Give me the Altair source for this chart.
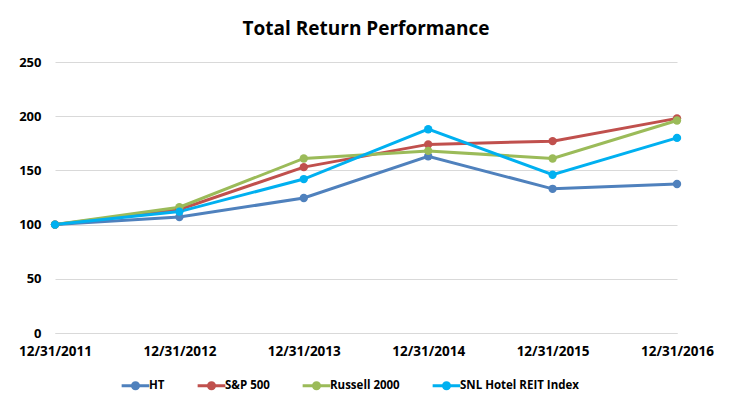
import altair as alt
import pandas as pd

dates = ["12/31/2011", "12/31/2012", "12/31/2013", "12/31/2014", "12/31/2015", "12/31/2016"]
series_names = ["HT", "S&P 500", "Russell 2000", "SNL Hotel REIT Index"]
ht = [100, 107, 124.5, 163, 133, 137.5]
sp500 = [100, 114, 153, 174, 177, 198]
russell = [100, 116, 161, 168, 161, 196]
snl = [100, 112, 142, 188, 146, 180]
colors = ["#4F81BD", "#C0504D", "#9BBB59", "#00B0F0"]

rows = []
for name, vals in zip(series_names, [ht, sp500, russell, snl]):
    for d, v in zip(dates, vals):
        rows.append({"Date": d, "Series": name, "Value": v})
df = pd.DataFrame(rows)

FONT = "Open Sans"

legend_symbol = "M-1.6,0L-0.35,0M0.35,0L1.6,0M-0.35,0A0.35,0.35 0 1,1 0.35,0A0.35,0.35 0 1,1 -0.35,0Z"

chart = alt.Chart(df).mark_line(
    strokeWidth=3,
    point=alt.OverlayMarkDef(filled=True, size=70),
).encode(
    x=alt.X("Date:O", sort=dates, scale=alt.Scale(type="point", padding=0),
            axis=alt.Axis(title=None, labelAngle=0, labelFont=FONT, labelFontSize=13.5,
                          labelFontWeight="bold", labelColor="#000000",
                          labelPadding=11, domainColor="#D9D9D9", ticks=False,
                          grid=False)),
    y=alt.Y("Value:Q", scale=alt.Scale(domain=[0, 250]),
            axis=alt.Axis(title=None, values=[0, 50, 100, 150, 200, 250],
                          labelFont=FONT, labelFontSize=13, labelFontWeight="bold",
                          labelColor="#000000", labelPadding=14, ticks=False,
                          domain=False, gridColor="#D9D9D9", gridWidth=1)),
    color=alt.Color("Series:N", sort=series_names,
                    scale=alt.Scale(domain=series_names, range=colors),
                    legend=alt.Legend(title=None, orient="none", direction="horizontal",
                                      legendX=70, legendY=313,
                                      labelFont=FONT, labelFontSize=11.5,
                                      labelFontWeight="bold", labelColor="#000000",
                                      symbolType=legend_symbol, symbolSize=300,
                                      symbolStrokeWidth=3, columnPadding=26,
                                      labelOffset=3)),
).properties(
    width=622,
    height=271,
    title=alt.TitleParams("Total Return Performance", font=FONT, fontSize=19,
                          fontWeight="bold", color="#000000", anchor="middle",
                          offset=17),
    autosize=alt.AutoSizeParams(type="none"),
    padding={"left": 47, "top": 54, "right": 48, "bottom": 70},
).configure(background="white").configure_view(stroke="transparent", strokeWidth=0)

chart.save("out.html", embed_options={"renderer": "svg", "actions": False})
